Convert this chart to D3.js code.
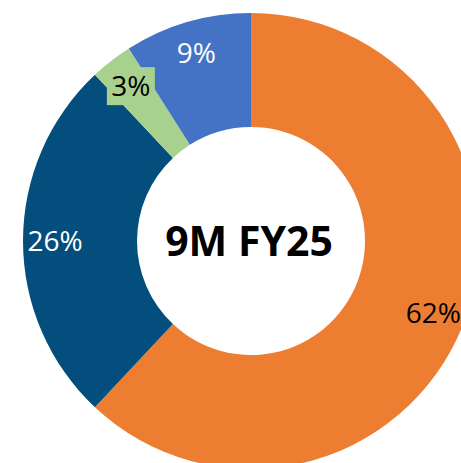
<!DOCTYPE html>
<html>
<head>
<meta charset="utf-8">
<script src="https://cdn.jsdelivr.net/npm/d3@7"></script>
<style>
  html, body { margin: 0; padding: 0; background: #fff; }
  svg { display: block; }
</style>
</head>
<body>
<div id="chart"></div>
<script>
// segment data, clockwise from 12 o'clock
var segments = ["A", "B", "C", "D"];
var shares = [62, 26, 3, 9];
var colors = ["#ED7D31", "#034E7C", "#A9D18E", "#4472C4"];
var labelColors = ["#000", "#fff", "#000", "#fff"];
var centerTitle = "9M FY25";

var width = 461, height = 463;
var cx = 251, cy = 241;
var outerR = 228, innerR = 114, labelR = 196;

var svg = d3.select("#chart").append("svg")
    .attr("width", width)
    .attr("height", height);

var g = svg.append("g").attr("transform", "translate(" + cx + "," + cy + ")");

var pie = d3.pie().sort(null).value(function(d) { return d; });
var arcs = pie(shares);

var arc = d3.arc().innerRadius(innerR).outerRadius(outerR);
var labelArc = d3.arc().innerRadius(labelR).outerRadius(labelR);

g.selectAll("path.slice")
    .data(arcs)
  .enter().append("path")
    .attr("class", "slice")
    .attr("d", arc)
    .attr("fill", function(d, i) { return colors[i]; });

var labels = g.selectAll("g.lbl")
    .data(arcs)
  .enter().append("g")
    .attr("class", "lbl")
    .attr("transform", function(d) { return "translate(" + labelArc.centroid(d) + ")"; });

// the small slice's label sits on a filled box, like the original
labels.filter(function(d, i) { return shares[i] < 5; })
  .append("rect")
    .attr("x", -24)
    .attr("y", -19)
    .attr("width", 48)
    .attr("height", 38)
    .attr("fill", function(d) { return colors[d.index]; });

labels.append("text")
    .attr("text-anchor", "middle")
    .attr("dy", "0.36em")
    .style("font-family", "'Open Sans', sans-serif")
    .style("font-size", "28px")
    .attr("fill", function(d, i) { return labelColors[i]; })
    .text(function(d, i) { return shares[i] + "%"; });

g.append("text")
    .attr("text-anchor", "middle")
    .attr("x", -2)
    .attr("dy", "0.36em")
    .style("font-family", "'Open Sans', sans-serif")
    .style("font-weight", "bold")
    .style("font-size", "41px")
    .attr("fill", "#000")
    .text(centerTitle);
</script>
</body>
</html>
